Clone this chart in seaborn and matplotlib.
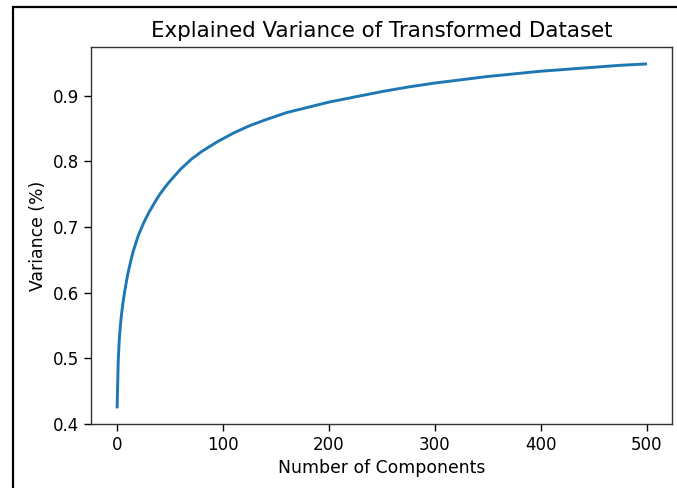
import matplotlib
matplotlib.use("Agg")
import matplotlib.pyplot as plt
import seaborn as sns
import pandas as pd
from matplotlib.patches import Rectangle

# cumulative explained variance
components = [0, 1, 2, 3, 4, 5, 6, 8, 10, 12, 15, 20, 25, 30, 35, 40, 45,
              50, 60, 70, 80, 95, 110, 125, 140, 160, 175, 200, 225, 250,
              275, 300, 325, 350, 375, 400, 425, 450, 475, 499]
variance = [0.426, 0.495, 0.528, 0.549, 0.565, 0.578, 0.590, 0.610, 0.628,
            0.642, 0.662, 0.687, 0.706, 0.722, 0.736, 0.749, 0.760, 0.770,
            0.788, 0.803, 0.815, 0.830, 0.843, 0.854, 0.863, 0.874, 0.880,
            0.890, 0.898, 0.906, 0.913, 0.919, 0.924, 0.929, 0.933, 0.937,
            0.940, 0.943, 0.946, 0.948]

df = pd.DataFrame({"n": components, "var": variance})

fig = plt.figure(figsize=(6.77, 4.88), dpi=100)
ax = fig.add_axes([0.134, 0.131, 0.8586, 0.773])

sns.lineplot(data=df, x="n", y="var", ax=ax, color="#1f77b4", linewidth=2.1)

ax.set_xticks([0, 100, 200, 300, 400, 500])
ax.set_yticks([0.4, 0.5, 0.6, 0.7, 0.8, 0.9])
ax.set_yticklabels(["0.4", "0.5", "0.6", "0.7", "0.8", "0.9"])
ax.tick_params(labelsize=12, length=5, width=1)
ax.set_xlabel("Number of Components", fontsize=12.4)
ax.set_ylabel("Variance (%)", fontsize=12.4)
ax.set_title("Explained Variance of Transformed Dataset", fontsize=15.4, pad=7)

for s in ax.spines.values():
    s.set_color("#333333")
    s.set_linewidth(1.0)

# black frame round the screenshot (top and left edges visible)
fig.patches.append(Rectangle((12.7 / 677, -0.1), 1.2, 1.1 - 7.5 / 488,
                             transform=fig.transFigure, fill=False,
                             edgecolor="black", linewidth=1.6))

fig.savefig("out.png", dpi=100)
